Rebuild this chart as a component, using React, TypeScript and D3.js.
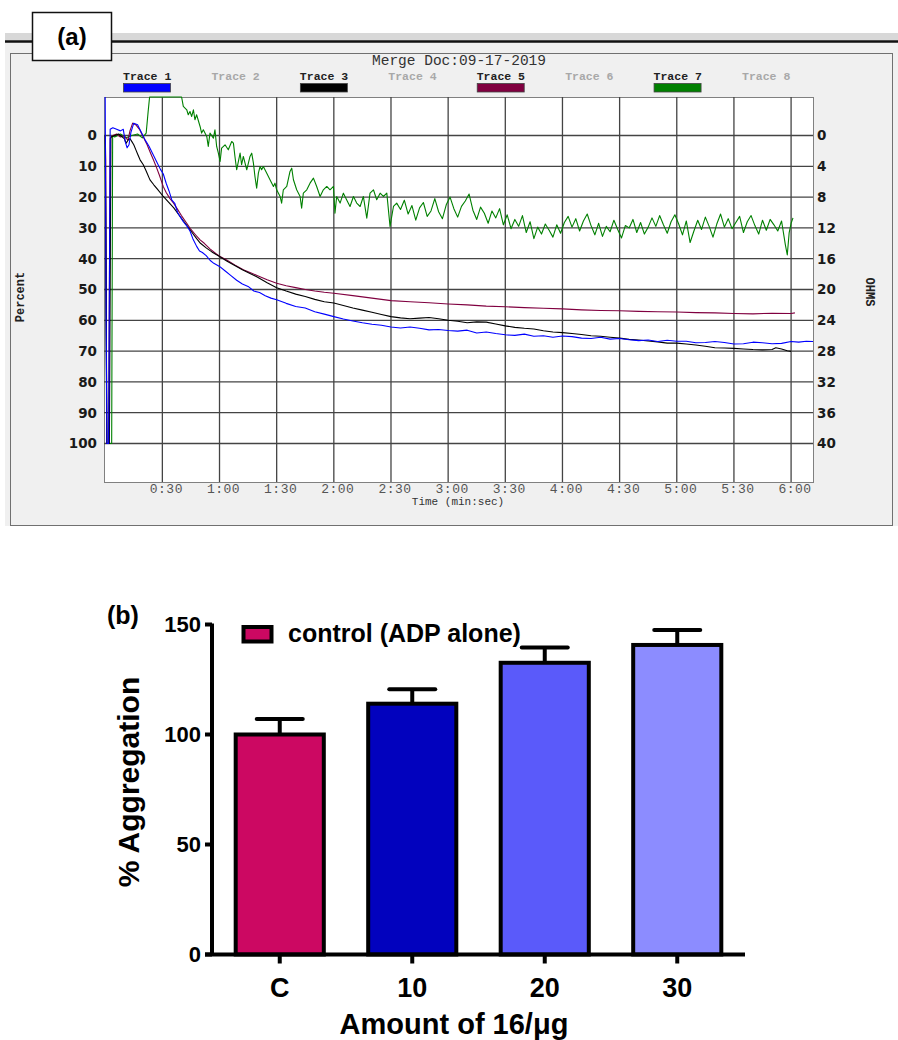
import React from "react";
import * as d3 from "d3";

const W = 898;
const H = 1040;

// ---------- panel (a): aggregometer traces ----------
const traceNames = ["Trace 1", "Trace 2", "Trace 3", "Trace 4", "Trace 5", "Trace 6", "Trace 7", "Trace 8"];
const traceActive = [true, false, true, false, true, false, true, false];
const traceColors = ["#0000ff", "#a0a0a0", "#000000", "#a0a0a0", "#800040", "#a0a0a0", "#008000", "#a0a0a0"];

const timeTicks = [30, 60, 90, 120, 150, 180, 210, 240, 270, 300, 330, 360];
const timeLabels = ["0:30", "1:00", "1:30", "2:00", "2:30", "3:00", "3:30", "4:00", "4:30", "5:00", "5:30", "6:00"];
const percentTicks = [0, 10, 20, 30, 40, 50, 60, 70, 80, 90, 100];
const ohmTicks = [0, 4, 8, 12, 16, 20, 24, 28, 32, 36, 40];

// [seconds, percent]
const trace1 = [
  [0, -12.5], [0.5, 60], [0.9, 100], [1.8, 100], [2.6, -2], [4, -2.5], [6, -2], [8, -1.5], [9.5, -2], [10.5, 2],
  [11.5, 4], [12.5, 3], [13.5, -1], [15, -4], [17, -3.5], [19, -1], [21, 1.5], [23, 3.5], [25, 6], [27, 8.5],
  [29, 11], [30.5, 12.5], [32, 15.5], [33.5, 18], [35, 21], [36.5, 22], [38, 25], [39.5, 26.5], [41, 28], [43, 29.5],
  [44.5, 31], [46, 33.5], [48, 36], [49.5, 37.5], [51, 38], [53, 39], [55, 40.5], [57, 41.5], [60, 42.5], [63, 44],
  [66, 45.5], [69, 47], [72, 48.2], [75, 49], [78, 50.5], [81, 51], [84, 52], [87, 52.8], [90, 53.3], [95, 54.5],
  [100, 55.5], [105, 56], [110, 57.2], [115, 58], [120, 58.8], [125, 59.6], [130, 60.2], [135, 60.8], [140, 61.3],
  [145, 61.6], [150, 62.2], [155, 62.5], [160, 62.2], [165, 62.6], [170, 63.1], [175, 63], [180, 63.3], [185, 63.5],
  [190, 63.2], [195, 64.1], [200, 63.8], [205, 64.3], [210, 64.7], [215, 64.9], [220, 64.5], [225, 65.2], [230, 65],
  [235, 65.5], [240, 65.1], [245, 65.3], [250, 65.8], [255, 65.9], [260, 65.5], [265, 66.1], [270, 65.9], [275, 66.3],
  [280, 66.6], [285, 66.4], [290, 66.9], [295, 66.5], [300, 66.8], [305, 66.8], [310, 67.3], [315, 67.2], [320, 66.9],
  [325, 67.2], [330, 67.7], [335, 67.6], [340, 67.1], [345, 67.3], [350, 67.6], [355, 67.5], [360, 66.9], [364, 67.1],
  [368, 66.8], [371.5, 66.9],
];

const trace3 = [
  [0, 0], [0.4, 40], [0.9, 100], [2.2, 100], [3, 0.5], [5, 0], [7, -0.5], [9, 0.5], [10, 1], [11, 2.5], [12, 1.5],
  [13, 1], [14, 2], [15, 3], [16, 4.5], [17, 6], [18.3, 7.9], [20, 9.5], [21.5, 11.5], [23.5, 14.4], [25.5, 16],
  [27.5, 17.5], [30.5, 19.8], [33, 21.5], [36, 23.5], [39.3, 26.3], [42, 28.5], [45, 31], [48, 33.5], [50, 35],
  [53, 36.5], [56, 37.8], [60, 39.3], [64, 40.8], [68, 42.2], [72, 43.6], [76, 44.8], [80, 46], [85, 47.8], [90, 49.4],
  [95, 50.5], [100, 51.5], [105, 52.3], [110, 53.2], [115, 54], [120, 54.4], [125, 55.2], [130, 56], [135, 56.7],
  [140, 57.4], [145, 58.1], [150, 58.8], [155, 59.2], [160, 59.5], [165, 59.3], [170, 59.1], [175, 59.5], [180, 60],
  [185, 60.3], [190, 60.8], [195, 60.5], [200, 60.6], [205, 61.2], [210, 61.8], [215, 62.3], [220, 62.6], [225, 62.8],
  [230, 63.4], [235, 63.8], [240, 64], [245, 64.3], [250, 64.6], [255, 65], [260, 65.2], [265, 65.5], [270, 65.8],
  [275, 66.2], [280, 66.4], [285, 66.7], [290, 67], [295, 67.4], [300, 67.4], [305, 67.7], [310, 68], [315, 68.4],
  [320, 68.9], [325, 69], [330, 69.1], [335, 69.3], [340, 69.5], [345, 69.6], [350, 69.5], [352, 68.9], [355, 69.3],
  [358, 69.9], [360, 70.1],
];

const trace5 = [
  [0, 0], [0.3, 8], [0.8, 100], [1.8, 100], [2.6, 1], [4, 0], [6, -0.5], [8, 0.5], [10, 0], [11, 1], [12, 1.4],
  [13, -1.5], [14.4, -4], [16, -3.5], [18, -2], [20, 0.5], [22, 3], [24, 6], [25.3, 7.9], [27, 10.5], [28.5, 13],
  [30.5, 16.6], [32, 18.5], [34, 20.5], [35.8, 21.9], [38, 24], [40, 26], [42.8, 28.5], [45, 30.5], [47.5, 32.3],
  [49.8, 33.9], [52, 35], [55, 36.8], [58, 38.3], [60.3, 39.3], [64, 40.5], [68, 42], [72.5, 43.6], [76, 44.5],
  [80, 45.5], [85, 46.8], [90, 48], [95, 48.8], [100, 49.4], [105, 50], [110, 50.5], [115, 50.9], [120, 51.2],
  [130, 52], [140, 52.8], [150, 53.6], [160, 54], [170, 54.3], [180, 54.7], [190, 55], [200, 55.4], [210, 55.6],
  [220, 55.9], [230, 56.1], [240, 56.3], [250, 56.6], [260, 56.8], [270, 56.9], [280, 57.1], [290, 57.2], [300, 57.3],
  [310, 57.5], [320, 57.6], [330, 57.8], [340, 57.9], [350, 57.7], [360, 57.8], [362, 57.6],
];

// [seconds, ohms] - plotted against the right axis
const trace7 = [
  [0, 0], [0.8, 40], [3.4, 40], [3.9, 0], [5, 0.2], [8, -0.2], [11, 0.3], [14, 0], [17, -0.2], [19.5, 0.3], [21.5, -0.3],
  [22.5, -3], [23.3, -5], [40.1, -5], [41, -3.77], [42.8, -3.34], [43.6, -2.69], [44.5, -3.12], [45.4, -2.47],
  [46.3, -3.34], [47.1, -2.04], [48, -2.69], [49.8, -1.17], [50.6, -0.31], [51.5, -0.74], [53.3, 0.12], [54.1, 1.42],
  [55, -0.31], [56.8, 0.34], [57.6, -0.74], [58.5, 1.42], [59.4, 2.29], [60.3, 3.37], [61.1, 1.64], [62.9, 1.21],
  [64.6, 1.86], [66.4, 0.78], [67.3, 0.99], [68.1, 2.72], [69, 4.45], [70.8, 2.29], [71.6, 3.8], [72.5, 2.72],
  [74.3, 4.45], [76, 2.72], [76.9, 2.29], [77.8, 3.59], [78.6, 5.32], [79.5, 6.84], [80.4, 4.89], [81.3, 4.02],
  [82.1, 4.45], [83, 4.02], [84.8, 4.89], [86.5, 5.75], [88.3, 6.62], [89.1, 6.19], [90, 7.05], [91.8, 7.92],
  [92.6, 8.78], [93.5, 7.05], [95.3, 6.62], [97, 4.67], [97.9, 4.24], [98.8, 5.75], [100.5, 7.05], [102.3, 7.92],
  [103.1, 9.43], [104, 7.49], [105.8, 7.05], [107.5, 6.19], [109.3, 5.54], [111, 6.62], [112.8, 7.92], [114.5, 7.05],
  [116.3, 6.62], [118, 7.05], [119.8, 6.62], [120.6, 10.08], [121.5, 7.92], [123.3, 8.78], [125, 7.49], [126.7, 8.35],
  [128.5, 9.22], [130.3, 7.92], [132, 8.78], [133.8, 9.22], [135.5, 7.92], [137.3, 10.73], [139, 7.49], [140.8, 7.05],
  [142.5, 8.35], [144.3, 7.49], [146, 7.92], [147.8, 7.49], [149.5, 11.8], [151.3, 9.22], [153, 8.78],
  [155, 9.6], [157, 8.4], [159, 10.2], [161, 9.1], [163, 11], [165, 9.4], [167, 8.7], [169, 10.5], [171, 9.8],
  [173, 8.2], [175, 9.9], [177, 10.8], [179, 9], [181, 8], [183, 9.5], [185, 10.6], [187, 9.2], [189, 8.5], [191, 7.6],
  [193, 9.7], [195, 10.9], [197, 9.3], [199, 10.1], [201, 11.4], [203, 9.8], [205, 10.7], [207, 9.5], [209, 11.6],
  [211, 10.3], [213, 12.1], [215, 10.9], [217, 11.8], [219, 10.4], [221, 12.6], [223, 11.2], [225, 13.4], [227, 11.9],
  [229, 12.8], [231, 11.5], [233, 12.3], [235, 13.2], [237, 11.6], [239, 12.7], [241, 11.3], [243, 10.5], [245, 11.9],
  [247, 10.8], [249, 12.4], [251, 11.1], [253, 10.2], [255, 11.7], [257, 12.9], [259, 11.4], [261, 13.1], [263, 11.8],
  [265, 12.5], [267, 11], [269, 12.2], [271, 13.3], [273, 11.7], [275, 12], [277, 10.9], [279, 12.6], [281, 11.3],
  [283, 12.8], [285, 11.9], [287, 10.7], [289, 11.8], [291, 10.4], [293, 11.6], [295, 12.7], [297, 11.2], [299, 10.3],
  [301, 11.5], [303, 12.9], [305, 11.1], [307, 13.9], [309, 12.4], [311, 11], [313, 12.2], [315, 10.6], [317, 11.8],
  [319, 13.2], [321, 11.5], [323, 10.2], [325, 11.9], [327, 10.8], [329, 12.1], [331, 11.3], [333, 10.5], [335, 12.6],
  [337, 11.2], [339, 10.4], [341, 11.7], [343, 12.8], [345, 11], [347, 12.3], [349, 10.9], [351, 11.6], [353, 12.4],
  [355, 11.1], [357, 14.2], [358, 15.5], [359, 12.6], [360, 11.4], [361, 10.7],
];

// ---------- panel (b): bar chart ----------
const categories = ["C", "10", "20", "30"];
const means = [100, 114, 132.6, 140.7];
const sems = [7, 6.6, 6.9, 6.8];
const barColors = ["#cc0862", "#0202be", "#5a5afa", "#8c8cff"];
const aggTicks = [0, 50, 100, 150];

const mono = "'Liberation Mono', 'DejaVu Sans Mono', monospace";
const sansB = "'DejaVu Sans', Verdana, sans-serif";
const arial = "'Liberation Sans', Arial, sans-serif";

export default function App() {
  // panel (a) scales
  const plot = { left: 104, right: 813, top: 97, bottom: 482 };
  const x = d3.scaleLinear().domain([0, 371.5]).range([105.2, plot.right]);
  const yPct = d3.scaleLinear().domain([-12.5, 112.5]).range([plot.top, plot.bottom]);
  const yOhm = d3.scaleLinear().domain([-5, 45]).range([plot.top, plot.bottom]);

  const linePct = d3.line<number[]>().x((d) => x(d[0])).y((d) => yPct(d[1]));
  const lineOhm = d3.line<number[]>().x((d) => x(d[0])).y((d) => yOhm(d[1]));

  const legendX = d3.scaleLinear().domain([0, 7]).range([123, 742]);

  // panel (b) scales
  const xb = d3.scaleBand().domain(categories).range([213.5, 743.5]).paddingInner(0.335).paddingOuter(0.1675);
  const yb = d3.scaleLinear().domain([0, 150]).range([954.5, 624.5]);
  const bw = xb.bandwidth();

  return (
    <svg width={W} height={H} style={{ position: "absolute", left: 0, top: 0, background: "#fff" }}>
      {/* ---------- (a) window frame ---------- */}
      <rect x={5} y={33} width={893} height={493} fill="#f0f0f0" />
      <rect x={5} y={33} width={893} height={7} fill="#d8d8d8" />
      <line x1={5} x2={898} y1={41.5} y2={41.5} stroke="#111" strokeWidth={2.5} />
      <rect x={10.5} y={53.5} width={882} height={472} fill="none" stroke="#707070" strokeWidth={1} />

      <rect x={32.5} y={12.5} width={79} height={48} fill="#fff" stroke="#111" strokeWidth={1.5} />
      <text x={72} y={45} textAnchor="middle" fontFamily={arial} fontWeight="bold" fontSize={24}>(a)</text>

      <text x={459} y={65} textAnchor="middle" fontFamily={mono} fontSize={14.5} fill="#333">Merge Doc:09-17-2019</text>

      {traceNames.map((n, i) => (
        <g key={n}>
          <text x={legendX(i)} y={80} fontFamily={mono} fontSize={11.5} fontWeight="bold"
            fill={traceActive[i] ? "#222" : "#a8a8a8"}>{n}</text>
          {traceActive[i] && (
            <rect x={legendX(i) + 0.5} y={83.5} width={47} height={8.5} fill={traceColors[i]} stroke="#444" strokeWidth={0.8} />
          )}
        </g>
      ))}

      {/* plot area */}
      <rect x={plot.left + 0.5} y={plot.top + 0.5} width={plot.right - plot.left} height={plot.bottom - plot.top}
        fill="#fff" stroke="#808080" strokeWidth={1} />
      {percentTicks.map((t) => (
        <line key={"h" + t} x1={plot.left} x2={plot.right} y1={yPct(t)} y2={yPct(t)} stroke="#444" strokeWidth={1.3} />
      ))}
      {timeTicks.map((t) => (
        <line key={"v" + t} x1={x(t)} x2={x(t)} y1={plot.top} y2={plot.bottom} stroke="#444" strokeWidth={1.3} />
      ))}

      <defs>
        <clipPath id="plotClip">
          <rect x={plot.left} y={plot.top - 1} width={plot.right - plot.left + 1} height={plot.bottom - plot.top + 1} />
        </clipPath>
      </defs>
      <g clipPath="url(#plotClip)" fill="none" strokeWidth={1.1} strokeLinejoin="round">
        <path d={lineOhm(trace7) || ""} stroke={traceColors[6]} />
        <path d={linePct(trace5) || ""} stroke={traceColors[4]} />
        <path d={linePct(trace3) || ""} stroke={traceColors[2]} />
        <path d={linePct(trace1) || ""} stroke={traceColors[0]} />
      </g>

      {/* left axis */}
      {percentTicks.map((t) => (
        <text key={"pl" + t} x={97} y={yPct(t)} dy="0.36em" textAnchor="end" fontFamily={sansB} fontWeight="bold"
          fontSize={13.5} fill="#1a1a1a">{t}</text>
      ))}
      {/* right axis */}
      {ohmTicks.map((t) => (
        <text key={"or" + t} x={817} y={yOhm(t)} dy="0.36em" fontFamily={sansB} fontWeight="bold"
          fontSize={13.5} fill="#1a1a1a">{t}</text>
      ))}
      {timeTicks.map((t, i) => (
        <text key={"tl" + t} x={x(t) + 4} y={493} textAnchor="middle" fontFamily={mono} fontSize={13}
          letterSpacing={0.5} fill="#555">{timeLabels[i]}</text>
      ))}
      <text x={458} y={505} textAnchor="middle" fontFamily={mono} fontSize={11} fill="#333">Time (min:sec)</text>
      <text transform="translate(24,297) rotate(-90)" textAnchor="middle" fontFamily={mono} fontWeight="bold"
        fontSize={12} fill="#222">Percent</text>
      <text transform="translate(866,292) rotate(90)" textAnchor="middle" fontFamily={mono} fontWeight="bold"
        fontSize={12} fill="#222">OHMS</text>

      {/* ---------- (b) bar chart ---------- */}
      <text x={107} y={624} fontFamily={arial} fontWeight="bold" fontSize={25}>(b)</text>

      {categories.map((c, i) => {
        const cx = (xb(c) as number) + bw / 2;
        const top = yb(means[i]);
        const cap = yb(means[i] + sems[i]);
        return (
          <g key={c}>
            <line x1={cx} x2={cx} y1={top} y2={cap} stroke="#000" strokeWidth={4} />
            <line x1={cx - 23} x2={cx + 23} y1={cap} y2={cap} stroke="#000" strokeWidth={4} strokeLinecap="round" />
            <rect x={xb(c)} y={top} width={bw} height={yb(0) - top} fill={barColors[i]} stroke="#000" strokeWidth={4} />
            <line x1={cx} x2={cx} y1={yb(0)} y2={yb(0) + 9} stroke="#000" strokeWidth={4} />
            <text x={cx} y={997} textAnchor="middle" fontFamily={arial} fontWeight="bold" fontSize={27}>{c}</text>
          </g>
        );
      })}

      <line x1={212} x2={212} y1={yb(150) - 1} y2={yb(0)} stroke="#000" strokeWidth={4} />
      <line x1={205} x2={745} y1={yb(0)} y2={yb(0)} stroke="#000" strokeWidth={4} />
      {aggTicks.map((t) => (
        <g key={"at" + t}>
          <line x1={205} x2={212} y1={yb(t)} y2={yb(t)} stroke="#000" strokeWidth={4} />
          <text x={201} y={yb(t)} dy="0.36em" textAnchor="end" fontFamily={arial} fontWeight="bold" fontSize={22}>{t}</text>
        </g>
      ))}

      <text transform="translate(139,782) rotate(-90)" textAnchor="middle" fontFamily={arial} fontWeight="bold"
        fontSize={30}>% Aggregation</text>
      <text x={454} y={1034} textAnchor="middle" fontFamily={arial} fontWeight="bold" fontSize={29}>Amount of 16/μg</text>

      {/* legend */}
      <rect x={243.5} y={627} width={28} height={14.5} fill={barColors[0]} stroke="#000" strokeWidth={4} />
      <text x={288} y={642} fontFamily={arial} fontWeight="bold" fontSize={25}>control (ADP alone)</text>
    </svg>
  );
}
